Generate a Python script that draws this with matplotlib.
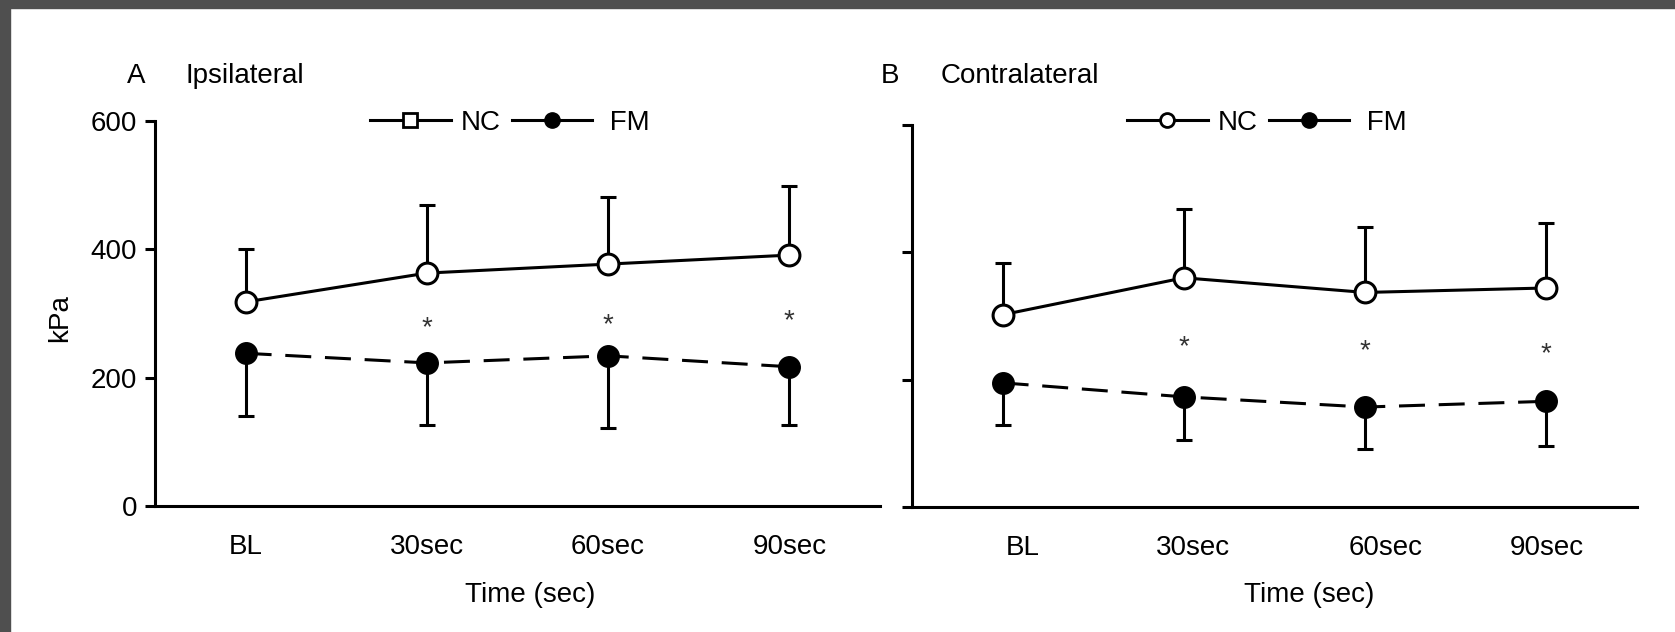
import matplotlib
matplotlib.use("Agg")
import matplotlib.pyplot as plt
from matplotlib.lines import Line2D
from matplotlib.patches import Rectangle
from matplotlib.transforms import ScaledTranslation

plt.rcParams["font.family"] = ["Liberation Sans", "DejaVu Sans"]
plt.rcParams["font.size"] = 20

# ---------- data (kPa) ----------
times = ["BL", "30sec", "60sec", "90sec"]

ipsi_nc_mean = [318, 363, 377, 391]
ipsi_nc_sd   = [83, 106, 105, 107]
ipsi_fm_mean = [238, 223, 234, 217]
ipsi_fm_sd   = [98, 96, 113, 90]
ipsi_star_y  = [None, 284, 290, 295]

contra_nc_mean = [302, 360, 337, 344]
contra_nc_sd   = [81, 108, 103, 102]
contra_fm_mean = [195, 173, 157, 166]
contra_fm_sd   = [66, 68, 66, 70]
contra_star_y  = [None, 258, 253, 248]

W, H = 1675, 632
fig = plt.figure(figsize=(W / 100, H / 100), dpi=100)

# dark frame on the top and left edges
fig.patches.append(Rectangle((0, 0), 10 / W, 1, transform=fig.transFigure,
                             color="#4f4f4f", zorder=0))
fig.patches.append(Rectangle((0, 1 - 8 / H), 1, 8 / H, transform=fig.transFigure,
                             color="#4f4f4f", zorder=0))


def draw_panel(rect, letter, title, letter_x, title_x, nc_mean, nc_sd,
               fm_mean, fm_sd, star_y, nc_marker, legend_x, xlabel_x,
               show_ylabels, label_shift=None):
    ax = fig.add_axes(rect)
    x = list(range(len(times)))
    zeros = [0] * len(x)

    ax.errorbar(x, nc_mean, yerr=[zeros, nc_sd], fmt="none", ecolor="k",
                elinewidth=2.2, capsize=6, capthick=2.2, zorder=2)
    ax.errorbar(x, fm_mean, yerr=[fm_sd, zeros], fmt="none", ecolor="k",
                elinewidth=2.2, capsize=6, capthick=2.2, zorder=2)
    ax.plot(x, nc_mean, color="k", lw=2.2, marker="o", ms=15, mfc="white",
            mec="k", mew=2.2, zorder=3)
    ax.plot(x, fm_mean, color="k", lw=2.2, ls=(0, (8.5, 4.5)), marker="o", ms=15.5,
            mfc="k", mec="k", zorder=3)

    for xi, sy in zip(x, star_y):
        if sy is None:
            continue
        ax.annotate("*", (xi, sy), xytext=(0, -8.5), textcoords="offset points",
                    ha="center", va="baseline", fontsize=20, color="#333333")

    ax.set_xlim(-0.5, 3.5)
    ax.set_ylim(0, 600)
    ax.set_yticks([0, 200, 400, 600])
    if not show_ylabels:
        ax.set_yticklabels([])
    ax.set_xticks(x)
    ax.set_xticklabels(times)
    ax.tick_params(axis="x", length=0, pad=20, labelsize=20)
    ax.tick_params(axis="y", length=7.2, width=2.2, pad=5.5, labelsize=20)
    for s in ("top", "right"):
        ax.spines[s].set_visible(False)
    for s in ("left", "bottom"):
        ax.spines[s].set_linewidth(2.2)

    # small horizontal nudges of the tick labels, as in the original layout
    if label_shift:
        for lab, dx in zip(ax.get_xticklabels(), label_shift):
            lab.set_transform(lab.get_transform()
                              + ScaledTranslation(dx / 100, 0, fig.dpi_scale_trans))

    ax.set_xlabel("Time (sec)", fontsize=20)
    ax.xaxis.set_label_coords(xlabel_x, -0.197)

    fig.text(letter_x / W, 1 - 83 / H, letter, ha="left", va="baseline", fontsize=20)
    fig.text(title_x / W, 1 - 83 / H, title, ha="left", va="baseline", fontsize=20)

    handles = [
        Line2D([], [], color="k", lw=2.2, marker=nc_marker, ms=10, mfc="white",
               mec="k", mew=2),
        Line2D([], [], color="k", lw=2.2, marker="o", ms=11, mfc="k", mec="k"),
    ]
    ax.legend(handles, ["NC", " FM"], ncol=2, loc="center left",
              bbox_to_anchor=(legend_x / W, 1 - 123 / H),
              bbox_transform=fig.transFigure, frameon=False, fontsize=20,
              borderpad=0, borderaxespad=0, handlelength=2.9,
              handletextpad=0.36, columnspacing=0.4)
    return ax


ax_a = draw_panel([155 / W, 126 / H, 725 / W, 385 / H], "A", "Ipsilateral",
                  127, 185, ipsi_nc_mean, ipsi_nc_sd, ipsi_fm_mean, ipsi_fm_sd,
                  ipsi_star_y, "s", 370, 0.517, True)
ax_a.set_ylabel("kPa", fontsize=20)
ax_a.yaxis.set_label_coords(-0.113, 0.487)

ax_b = draw_panel([912 / W, 125 / H, 725 / W, 382 / H], "B", "Contralateral",
                  881, 941, contra_nc_mean, contra_nc_sd, contra_fm_mean,
                  contra_fm_sd, contra_star_y, "o", 1127, 0.548, False,
                  label_shift=[20, 9, 20, 0])

fig.savefig("out.png", dpi=100)
